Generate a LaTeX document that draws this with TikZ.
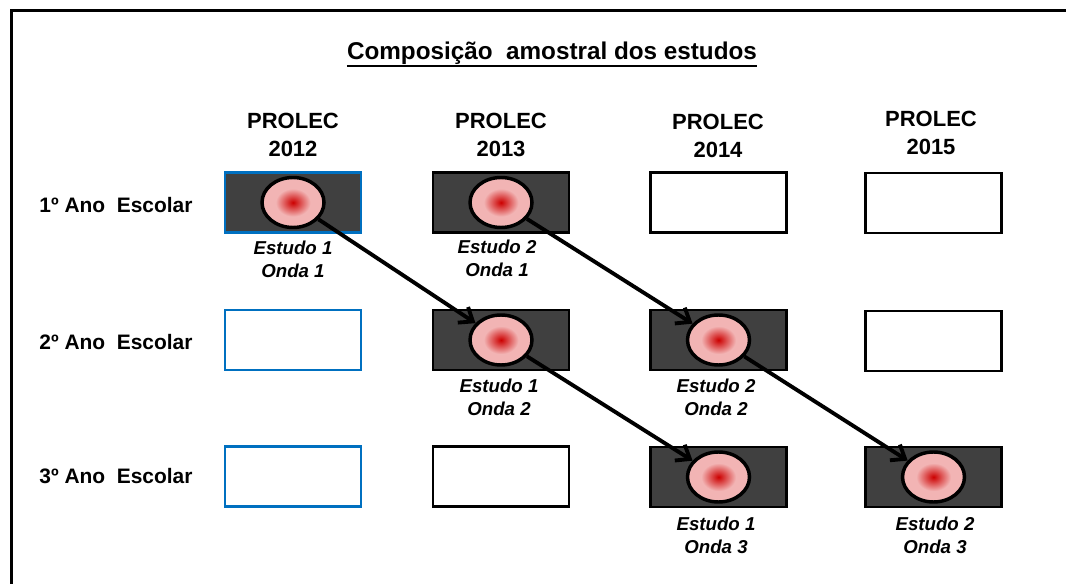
\documentclass[tikz,border=0pt]{standalone}
\usepackage{fontspec}
\setmainfont{Liberation Sans}
\usetikzlibrary{shapes.geometric,arrows.meta}
\definecolor{boxgray}{HTML}{404040}
\definecolor{edgeblue}{HTML}{0070C0}
\definecolor{spotred}{HTML}{CC0000}
\definecolor{spotpink}{HTML}{F2B4B4}
\pgfdeclareradialshading{spotshade}{\pgfpoint{0bp}{0bp}}{color(0bp)=(spotred); color(14bp)=(spotpink); color(25bp)=(spotpink); color(50bp)=(spotpink)}
\begin{document}
\begin{tikzpicture}[x=0.75pt,y=-0.75pt,
  box/.style={draw, line width=1.8pt, minimum width=102pt, minimum height=45pt, inner sep=0pt},
  blue box/.style={box, draw=edgeblue},
  dark/.style={fill=boxgray},
  spot/.style={ellipse, draw, line width=2.6pt, minimum width=46.5pt, minimum height=37.5pt, inner sep=0pt, shading=spotshade},
  year/.style={align=center, font=\bfseries\fontsize{16.5}{21}\selectfont},
  grade/.style={font=\bfseries\fontsize{15.7}{19}\selectfont},
  wave/.style={align=center, font=\bfseries\itshape\fontsize{14}{17.25}\selectfont},
  link/.style={line width=2.9pt, -{Straight Barb[length=9pt,width=14pt]}}]
\useasboundingbox (0,0) rectangle (1066,584);
\draw [line width=2.25pt] (11,600) -- (11,11) -- (1080,11);

\node (title) [inner sep=0pt, anchor=base, font=\bfseries\fontsize{18.2}{22}\selectfont] at (552,60) {Composição\ \ amostral dos estudos};
\draw [line width=1.6pt] ([yshift=-4.2pt]title.base west) -- ([yshift=-4.2pt]title.base east);

\node (h12) [year] at (293,135) {PROLEC\\2012};
\node (h13) [year] at (501,135) {PROLEC\\2013};
\node (h14) [year] at (718,136) {PROLEC\\2014};
\node (h15) [year] at (931,133) {PROLEC\\2015};

\node (g1) [grade] at (116,205) {1º Ano\ \ Escolar};
\node (g2) [grade] at (116,342) {2º Ano\ \ Escolar};
\node (g3) [grade] at (116,476) {3º Ano\ \ Escolar};

% first grade
\node (b12r1) [blue box, dark] at (293,202.5) {};
\node (b13r1) [box, dark] at (501,202.5) {};
\node (b14r1) [box] at (718.5,202.5) {};
\node (b15r1) [box] at (933.5,203) {};
% second grade
\node (b12r2) [blue box] at (293,340) {};
\node (b13r2) [box, dark] at (501,340) {};
\node (b14r2) [box, dark] at (718.5,340) {};
\node (b15r2) [box] at (933.5,341) {};
% third grade
\node (b12r3) [blue box] at (293,476.5) {};
\node (b13r3) [box] at (501,476.5) {};
\node (b14r3) [box, dark] at (718.5,477) {};
\node (b15r3) [box, dark] at (933.5,477) {};

\node (s12r1) [spot] at (b12r1) {};
\node (s13r1) [spot] at (b13r1) {};
\node (s13r2) [spot] at (b13r2) {};
\node (s14r2) [spot] at (b14r2) {};
\node (s14r3) [spot] at (b14r3) {};
\node (s15r3) [spot] at (b15r3) {};

\node (w12r1) [wave] at (293,259) {Estudo 1\\Onda 1};
\node (w13r1) [wave] at (497,258.5) {Estudo 2\\Onda 1};
\node (w13r2) [wave] at (499,397.5) {Estudo 1\\Onda 2};
\node (w14r2) [wave] at (716,397.5) {Estudo 2\\Onda 2};
\node (w14r3) [wave] at (716,535) {Estudo 1\\Onda 3};
\node (w15r3) [wave] at (935,535) {Estudo 2\\Onda 3};

\draw [link] (s12r1) -- (s13r2);
\draw [link] (s13r1) -- (s14r2);
\draw [link] (s13r2) -- (s14r3);
\draw [link] (s14r2) -- (s15r3);
\end{tikzpicture}
\end{document}
